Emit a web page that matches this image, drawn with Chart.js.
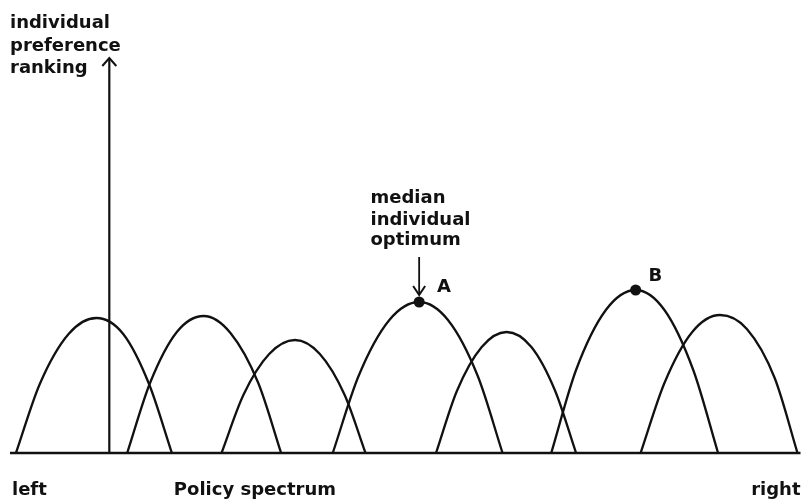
<!DOCTYPE html>
<html>
<head>
<meta charset="utf-8">
<script src="https://cdn.jsdelivr.net/npm/chart.js@4"></script>
<style>
  html, body { margin: 0; padding: 0; background: #fff; }
  #wrap { width: 806px; height: 500px; }
</style>
</head>
<body>
<div id="wrap"><canvas id="myChart"></canvas></div>
<script>
// preference curves: [policy position, ranking]
const arch1 = [[16,0],[40,69],[69,119],[97,135],[124,119],[150,69],[173,0]];
const arch2 = [[128,0],[151,70],[178,121],[205,137],[232,120],[260,70],[283,0]];
const arch3 = [[223,0],[245,58],[271,99],[297,113],[322,99],[347,58],[368,0]];
const arch4 = [[335,0],[361,77],[392,133],[422,151],[451,133],[481,77],[506,0]];
const arch5 = [[439,0],[460,62],[485,106],[510,121],[535,106],[559,62],[580,0]];
const arch6 = [[555,0],[580,83],[610,143],[640,163],[669,143],[698,83],[723,0]];
const arch7 = [[645,0],[669,70],[697,121],[725,138],[752,124],[780,75],[803,0]];

// optima marked with dots
const optima = [[422,151],[640,163]];

// axes
const baseLine = [[10,0],[806,0]];
const rankAxis = [[110,0],[110,395]];
const medianArrow = [[422,196],[422,158]];

const texts = [
  { t: 'individual', x: 10, y: 425 },
  { t: 'preference', x: 10, y: 402 },
  { t: 'ranking', x: 10, y: 380 },
  { t: 'median', x: 373, y: 250 },
  { t: 'individual', x: 373, y: 228 },
  { t: 'optimum', x: 373, y: 208 },
  { t: 'A', x: 440, y: 161 },
  { t: 'B', x: 653, y: 172 },
  { t: 'left', x: 12, y: -42 },
  { t: 'Policy spectrum', x: 175, y: -42 },
  { t: 'right', x: 806, y: -42, align: 'right' }
];

const pts = arr => arr.map(p => ({ x: p[0], y: p[1] }));
const ink = '#111';

function curve(arr) {
  return {
    data: pts(arr),
    showLine: true,
    borderColor: ink,
    borderWidth: 2.3,
    pointRadius: 0,
    cubicInterpolationMode: 'monotone',
    clip: false
  };
}
function straight(arr, w) {
  return {
    data: pts(arr),
    showLine: true,
    borderColor: ink,
    borderWidth: w,
    pointRadius: 0,
    tension: 0,
    clip: false
  };
}

// arrow heads + text labels
const annotate = {
  id: 'annotate',
  afterDatasetsDraw(chart) {
    const c = chart.ctx, xs = chart.scales.x, ys = chart.scales.y;
    c.save();
    c.strokeStyle = ink;
    c.lineWidth = 2;
    // up arrow on the ranking axis
    let tx = xs.getPixelForValue(rankAxis[1][0]), ty = ys.getPixelForValue(rankAxis[1][1]);
    c.beginPath();
    c.moveTo(tx - 7, ty + 8); c.lineTo(tx, ty); c.lineTo(tx + 7, ty + 8);
    c.stroke();
    // down arrow to A
    tx = xs.getPixelForValue(medianArrow[1][0]); ty = ys.getPixelForValue(medianArrow[1][1]);
    c.beginPath();
    c.moveTo(tx - 6, ty - 9); c.lineTo(tx, ty); c.lineTo(tx + 6, ty - 9);
    c.stroke();

    c.fillStyle = ink;
    c.font = 'bold 18px "DejaVu Sans"';
    c.textBaseline = 'alphabetic';
    texts.forEach(l => {
      c.textAlign = l.align || 'left';
      c.fillText(l.t, xs.getPixelForValue(l.x), ys.getPixelForValue(l.y));
    });
    c.restore();
  }
};

const ctx = document.getElementById('myChart').getContext('2d');
const myChart = new Chart(ctx, {
  type: 'scatter',
  data: {
    datasets: [
      straight(baseLine, 2.5),
      straight(rankAxis, 2.2),
      straight(medianArrow, 1.8),
      curve(arch1), curve(arch2), curve(arch3), curve(arch4),
      curve(arch5), curve(arch6), curve(arch7),
      {
        data: pts(optima),
        pointRadius: 5.5,
        pointBackgroundColor: ink,
        pointBorderColor: ink,
        pointBorderWidth: 0,
        clip: false
      }
    ]
  },
  options: {
    responsive: true,
    maintainAspectRatio: false,
    animation: false,
    events: [],
    layout: { padding: { left: 10, right: 0, top: 53, bottom: 47 } },
    plugins: { legend: { display: false }, tooltip: { enabled: false } },
    scales: {
      x: { type: 'linear', min: 10, max: 806, display: false },
      y: { type: 'linear', min: 0, max: 400, display: false }
    }
  },
  plugins: [annotate]
});
</script>
</body>
</html>
